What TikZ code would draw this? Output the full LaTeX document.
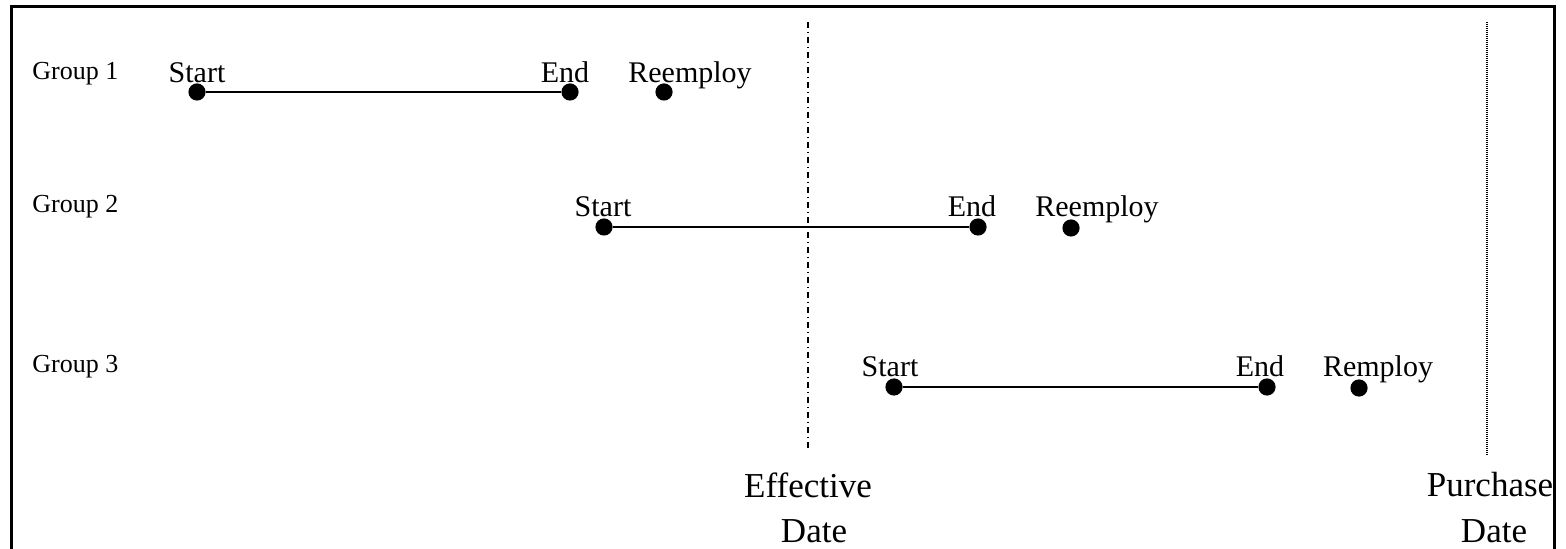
\documentclass[tikz,border=0pt]{standalone}
\usepackage{fontspec}
\setmainfont{Liberation Serif}
\begin{document}
\begin{tikzpicture}[x=0.5pt,y=-0.5pt,
  frame/.style={line width=1.5pt},
  span/.style={line width=1pt},
  dot/.style={circle,fill=black,inner sep=0pt,minimum size=8.6pt},
  grouplabel/.style={anchor=base west,inner sep=0pt,font=\fontsize{13}{15}\selectfont},
  eventlabel/.style={anchor=base,inner sep=0pt,font=\fontsize{15}{17}\selectfont},
  datelabel/.style={anchor=base,inner sep=0pt,font=\fontsize{17.5}{22.5}\selectfont},
  effline/.style={line width=0.8pt,dash pattern=on 3pt off 2pt on 0.5pt off 2pt},
  purline/.style={line width=0.6pt,dash pattern=on 0.5pt off 0.5pt}]
  \useasboundingbox (0,0) rectangle (1566,549);

  % open frame: left, top and right sides
  \draw[frame] (11,549) -- (11,7) -- (1554,7) -- (1554,549);

  % reference dates
  \coordinate (effTop) at (808,22);
  \coordinate (effBot) at (808,450);
  \coordinate (purTop) at (1487,22);
  \coordinate (purBot) at (1487,455);
  \draw[effline] (effTop) -- (effBot);
  \draw[purline] (purTop) -- (purBot);
  \node[datelabel] (effText) at (808,497) {Effective};
  \node[datelabel] (effDate) at (814,542) {Date};
  \node[datelabel] (purText) at (1490,496) {Purchase};
  \node[datelabel] (purDate) at (1494,542) {Date};

  % group labels
  \node[grouplabel] (g1) at (32,80) {Group 1};
  \node[grouplabel] (g2) at (32,213) {Group 2};
  \node[grouplabel] (g3) at (32,373) {Group 3};

  % Group 1
  \node[dot] (s1) at (197,92) {};
  \node[dot] (e1) at (570,92) {};
  \node[dot] (r1) at (664,92) {};
  \draw[span] (s1) -- (e1);
  \node[eventlabel] (s1t) at (197,83) {Start};
  \node[eventlabel] (e1t) at (565,83) {End};
  \node[eventlabel] (r1t) at (690,83) {Reemploy};

  % Group 2
  \node[dot] (s2) at (604,227) {};
  \node[dot] (e2) at (978,227) {};
  \node[dot] (r2) at (1071,228) {};
  \draw[span] (s2) -- (e2);
  \node[eventlabel] (s2t) at (603,217) {Start};
  \node[eventlabel] (e2t) at (972,217) {End};
  \node[eventlabel] (r2t) at (1097,217) {Reemploy};

  % Group 3
  \node[dot] (s3) at (894,387) {};
  \node[dot] (e3) at (1267,387) {};
  \node[dot] (r3) at (1359,388) {};
  \draw[span] (s3) -- (e3);
  \node[eventlabel] (s3t) at (890,377) {Start};
  \node[eventlabel] (e3t) at (1260,377) {End};
  \node[eventlabel] (r3t) at (1378,377) {Remploy};
\end{tikzpicture}
\end{document}
